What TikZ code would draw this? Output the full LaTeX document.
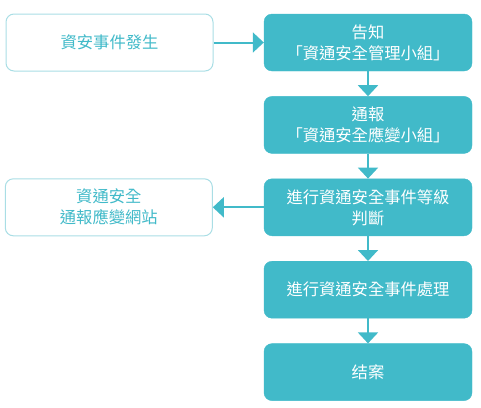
\documentclass[tikz,border=0pt]{standalone}
\usepackage{fontspec}
\setmainfont{Noto Sans CJK TC}
\usetikzlibrary{arrows.meta}
\usetikzlibrary{positioning}
\definecolor{flowteal}{HTML}{41BAC9}
\definecolor{flowedge}{HTML}{A9DEE5}

\begin{document}
\begin{tikzpicture}[x=1pt,y=-1pt,
    node distance=25pt,
    every node/.style={font={\fontsize{16.3pt}{21pt}\selectfont}, align=center, inner sep=0pt},
    stepbox/.style={fill=flowteal, draw=flowteal, text=white, rounded corners=8pt,
        minimum width=208pt, minimum height=57pt, text width=200pt},
    sidebox/.style={fill=white, draw=flowedge, line width=1pt, text=flowteal, rounded corners=8pt,
        minimum width=207pt, minimum height=57pt, text width=200pt},
    flow/.style={draw=flowteal, line width=2pt, -{Triangle[width=20pt,length=11pt]}}
    ]
\useasboundingbox (0,0) rectangle (481,407);

% right column
\node [stepbox] (notify) at (368,42.5) {告知\\「資通安全管理小組」};
\node [stepbox, below=of notify] (report) {通報\\「資通安全應變小組」};
\node [stepbox, below=of report] (grade) {進行資通安全事件等級\\判斷};
\node [stepbox, below=of grade] (handle) {進行資通安全事件處理};
\node [stepbox, below=of handle] (close) {结案};

% left column
\node [sidebox] (event) at (109.5,42.5) {資安事件發生};
\node [sidebox, left=51pt of grade] (site) {資通安全\\通報應變網站};

\draw [flow] (event) -- (notify);
\draw [flow] (notify) -- (report);
\draw [flow] (report) -- (grade);
\draw [flow] (grade) -- (site);
\draw [flow] (grade) -- (handle);
\draw [flow] (handle) -- (close);
\end{tikzpicture}
\end{document}
